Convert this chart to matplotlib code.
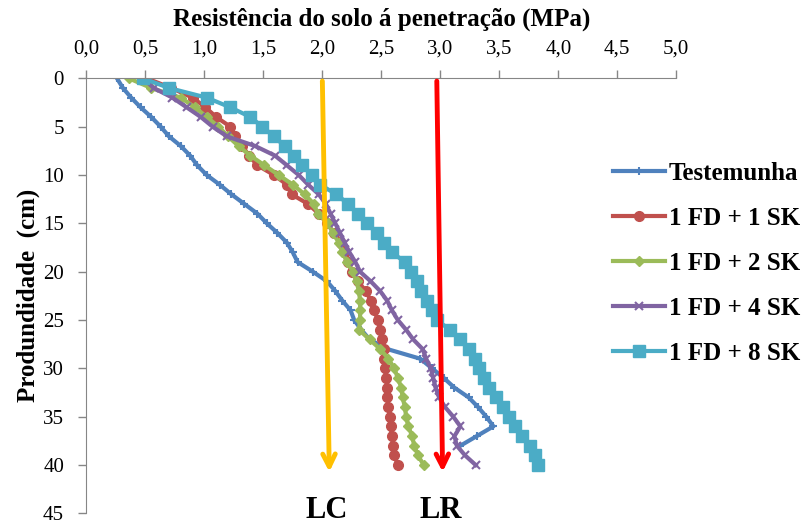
import numpy as np
import matplotlib
matplotlib.use("Agg")
import matplotlib.pyplot as plt
from matplotlib.ticker import FuncFormatter


# Depth (cm) and penetration resistance (MPa)
depth = list(range(0, 41))
depth_test = list(range(0, 39))

testemunha = [0.26, 0.31, 0.38, 0.46, 0.55, 0.63, 0.70, 0.80, 0.88, 0.94,
              1.02, 1.13, 1.23, 1.34, 1.45, 1.53, 1.62, 1.70, 1.75, 1.79,
              1.92, 2.04, 2.11, 2.17, 2.24, 2.27, 2.33, 2.40, 2.55, 2.83,
              2.93, 3.03, 3.12, 3.24, 3.32, 3.39, 3.45, 3.31, 3.17]
fd1_sk1 = [0.51, 0.72, 0.90, 1.01, 1.10, 1.22, 1.26, 1.32, 1.38, 1.45,
           1.59, 1.70, 1.74, 1.88, 1.97, 2.04, 2.10, 2.16, 2.19, 2.22,
           2.25, 2.30, 2.37, 2.41, 2.44, 2.47, 2.49, 2.51, 2.52, 2.52,
           2.53, 2.54, 2.55, 2.55, 2.56, 2.57, 2.58, 2.59, 2.60, 2.61, 2.64]
fd1_sk2 = [0.36, 0.55, 0.80, 0.92, 1.02, 1.12, 1.20, 1.29, 1.39, 1.51,
           1.63, 1.75, 1.85, 1.93, 1.96, 2.05, 2.09, 2.14, 2.17, 2.21,
           2.26, 2.29, 2.31, 2.32, 2.32, 2.32, 2.31, 2.40, 2.49, 2.56,
           2.61, 2.64, 2.67, 2.68, 2.70, 2.71, 2.73, 2.76, 2.78, 2.81, 2.86]
fd1_sk4 = [0.48, 0.57, 0.73, 0.85, 0.97, 1.07, 1.19, 1.43, 1.60, 1.70,
           1.80, 1.88, 1.97, 2.03, 2.07, 2.11, 2.15, 2.19, 2.23, 2.28,
           2.32, 2.41, 2.49, 2.55, 2.59, 2.64, 2.71, 2.77, 2.85, 2.88,
           2.92, 2.94, 2.96, 2.99, 3.04, 3.11, 3.17, 3.12, 3.14, 3.21, 3.30]
fd1_sk8 = [0.48, 0.70, 1.02, 1.22, 1.39, 1.49, 1.59, 1.68, 1.76, 1.83,
           1.91, 1.98, 2.12, 2.22, 2.30, 2.38, 2.46, 2.52, 2.59, 2.70,
           2.75, 2.80, 2.84, 2.89, 2.93, 2.97, 3.08, 3.17, 3.24, 3.29,
           3.33, 3.37, 3.41, 3.47, 3.53, 3.58, 3.63, 3.69, 3.76, 3.80, 3.83]

# Limit lines (LC = critical, LR = restrictive)
limit_names = ["LC", "LR"]
limit_top = [2.00, 2.97]
limit_bottom = [2.06, 3.02]
limit_colors = ["#FFC000", "#FF0000"]

serif = ["Liberation Serif", "DejaVu Serif"]
plt.rcParams["font.family"] = serif

fig = plt.figure(figsize=(8.03, 5.27), dpi=100)
ax = fig.add_axes([0.1075, 0.0258, 0.7347, 0.8256])

ax.plot(testemunha, depth_test, color="#4F81BD", lw=3, marker="+", ms=6, mew=1.5, label="Testemunha")
ax.plot(fd1_sk1, depth, color="#C0504D", lw=3, marker="o", ms=7, label="1 FD + 1 SK")
ax.plot(fd1_sk2, depth, color="#9BBB59", lw=3, marker="D", ms=5.5, label="1 FD + 2 SK")
ax.plot(fd1_sk4, depth, color="#8064A2", lw=3, marker="x", ms=6, mew=1.5, label="1 FD + 4 SK")
ax.plot(fd1_sk8, depth, color="#4BACC6", lw=3, marker="s", ms=8, label="1 FD + 8 SK")

for name, x0, x1, c in zip(limit_names, limit_top, limit_bottom, limit_colors):
    ax.annotate("", xy=(x1, 41.0), xytext=(x0, 0),
                arrowprops=dict(arrowstyle="->,head_length=0.9,head_width=0.45", color=c, lw=3.5))
    ax.text(x1 - 0.02, 44.7, name, ha="center", va="center", fontsize=22,
            fontweight="bold", clip_on=False)

ax.set_xlim(0, 5)
ax.set_ylim(45, 0)
ax.set_xticks(np.arange(0, 5.01, 0.5))
ax.set_yticks(range(0, 46, 5))
ax.xaxis.set_major_formatter(FuncFormatter(lambda v, p: f"{v:.1f}".replace(".", ",")))
ax.xaxis.tick_top()
ax.xaxis.set_label_position("top")
ax.tick_params(axis="both", labelsize=15, color="#868686", length=6, width=1)
ax.tick_params(axis="x", pad=8)
ax.tick_params(axis="y", pad=10)

for side in ["bottom", "right"]:
    ax.spines[side].set_visible(False)
for side in ["top", "left"]:
    ax.spines[side].set_color("#868686")

ax.set_xlabel("Resistência do solo á penetração (MPa)", fontsize=18, fontweight="bold", labelpad=10)
ax.set_ylabel("Produndidade  (cm)", fontsize=18, fontweight="bold", labelpad=2)

fig.legend(loc="center left", bbox_to_anchor=(0.763, 0.50), frameon=False,
           prop=dict(family=serif, weight="bold", size=18), handlelength=2.1,
           labelspacing=0.88, handletextpad=0.15, borderpad=0, borderaxespad=0)

fig.savefig("out.png", dpi=100)
